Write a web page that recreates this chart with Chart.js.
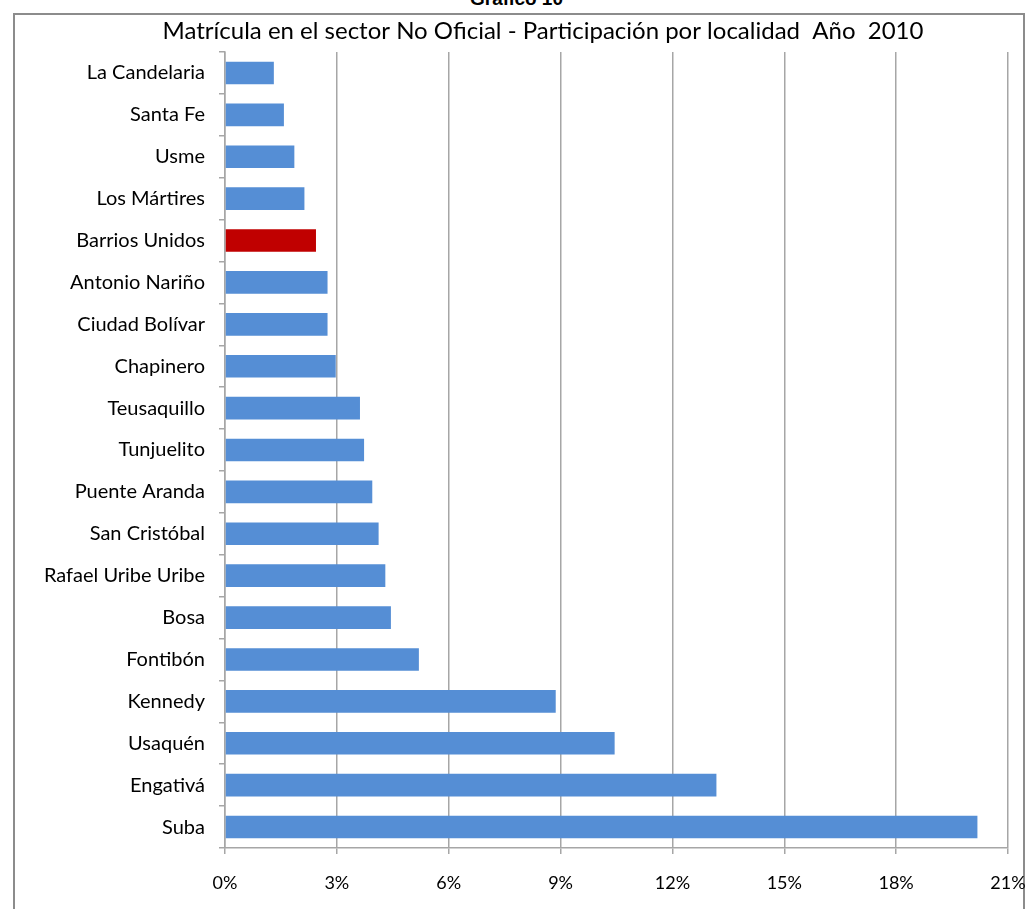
<!DOCTYPE html>
<html>
<head>
<meta charset="utf-8">
<script src="https://cdn.jsdelivr.net/npm/chart.js@4.4.0/dist/chart.umd.min.js"></script>
<style>
    body { margin: 0; background: #fff; }
    #wrap { position: relative; width: 1033px; height: 909px; overflow: hidden; }
    #frame { position: absolute; left: 13px; top: 13px; width: 1012px; height: 910px; border: 2px solid #8c8c8c; box-sizing: border-box; pointer-events: none; }
    #sup { position: absolute; left: 0; width: 1033px; top: -12px; text-align: center; font: bold 19px "Liberation Sans", Arial, sans-serif; color: #000; }
    canvas { position: absolute; left: 0; top: 0; }
</style>
</head>
<body>
<div id="wrap">
    <div id="sup">Gráfico 10</div>
    <div id="frame"></div>
    <canvas id="chart" width="1033" height="909"></canvas>
</div>
<script>
    // Localidades (de arriba hacia abajo)
    const localidades = [
        'La Candelaria', 'Santa Fe', 'Usme', 'Los Mártires', 'Barrios Unidos',
        'Antonio Nariño', 'Ciudad Bolívar', 'Chapinero', 'Teusaquillo', 'Tunjuelito',
        'Puente Aranda', 'San Cristóbal', 'Rafael Uribe Uribe', 'Bosa', 'Fontibón',
        'Kennedy', 'Usaquén', 'Engativá', 'Suba'
    ];

    // Participación (%)
    const participacion = [
        1.31, 1.58, 1.86, 2.13, 2.44,
        2.75, 2.75, 2.97, 3.62, 3.73,
        3.95, 4.12, 4.30, 4.45, 5.20,
        8.87, 10.45, 13.18, 20.18
    ];

    const tickValues = [0, 3, 6, 9, 12, 15, 18, 21];
    const highlight = 'Barrios Unidos';
    const chartTitle = 'Matrícula en el sector No Oficial - Participación por localidad  Año  2010';

    const barColors = localidades.map(l => l === highlight ? '#c00000' : '#558ed5');

    // title sits a bit right of the canvas centre in the original, so draw it ourselves
    const titlePlugin = {
        id: 'offsetTitle',
        afterDraw: function(chart) {
            const ctx = chart.ctx;
            ctx.save();
            ctx.font = '24px Lato, "Open Sans", sans-serif';
            ctx.fillStyle = '#000';
            ctx.textAlign = 'center';
            ctx.textBaseline = 'middle';
            ctx.fillText(chartTitle, 543, 31);
            ctx.restore();
        }
    };

    new Chart(document.getElementById('chart'), {
        type: 'bar',
        data: {
            labels: localidades,
            datasets: [{
                data: participacion,
                backgroundColor: barColors,
                borderWidth: 0,
                barPercentage: 0.54,
                categoryPercentage: 1.0
            }]
        },
        plugins: [titlePlugin],
        options: {
            indexAxis: 'y',
            responsive: false,
            animation: false,
            layout: { padding: { top: 52, right: 25, left: 0, bottom: 0 } },
            plugins: {
                legend: { display: false },
                tooltip: { enabled: false },
                title: { display: false }
            },
            scales: {
                x: {
                    min: 0,
                    max: 21,
                    afterBuildTicks: function(scale) {
                        scale.ticks = tickValues.map(v => ({ value: v }));
                    },
                    afterFit: function(scale) {
                        scale.height = 61;
                        scale.paddingLeft = 0;
                        scale.paddingRight = 0;
                    },
                    ticks: {
                        color: '#000',
                        font: { family: 'Lato, "Open Sans", sans-serif', size: 18 },
                        padding: 18,
                        callback: function(v) { return v + '%'; }
                    },
                    grid: { color: '#a6a6a6', lineWidth: 1.5, tickLength: 6 },
                    border: { color: '#a6a6a6', width: 1.5 }
                },
                y: {
                    afterFit: function(scale) { scale.width = 225; },
                    ticks: { color: '#000', font: { family: 'Lato, "Open Sans", sans-serif', size: 20 }, padding: 14 },
                    grid: { offset: true, drawOnChartArea: false, color: '#a6a6a6', lineWidth: 1.5, tickLength: 6 },
                    border: { color: '#a6a6a6', width: 1.5 }
                }
            }
        }
    });
</script>
</body>
</html>
